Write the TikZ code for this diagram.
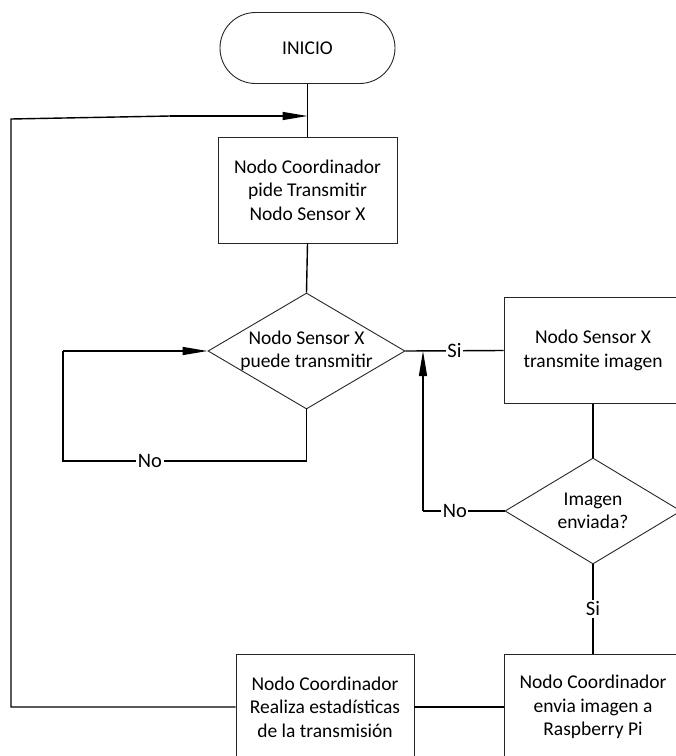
\documentclass[tikz,border=0pt]{standalone}
\usepackage{fontspec}
\setmainfont{Carlito}
\usetikzlibrary{shapes.geometric,shapes.misc,arrows.meta}
\tikzset{
  x=1pt, y=-1pt,
  txt/.style={align=center, font=\fontsize{19.5}{23.5}\selectfont},
  base/.style={txt, draw=black!85, line width=0.9pt, inner sep=2pt},
  term/.style={base, rounded rectangle, minimum width=179pt, minimum height=71pt},
  proc/.style={base, rectangle, minimum width=178pt, minimum height=106pt},
  decide/.style={draw=black!85, line width=0.9pt, diamond, inner sep=0pt},
  link/.style={line width=1.4pt},
  flow/.style={link, -{Triangle[length=25pt,width=8pt]}},
  tag/.style={fill=white, inner sep=1.5pt, font=\fontsize{20.5}{22}\selectfont}
}
\begin{document}
\begin{tikzpicture}
\useasboundingbox (0,0) rectangle (676,756);
\clip (0,0) rectangle (676,756);

% boxes and decisions
\node[term] (inicio) at (307.5,48) {INICIO};
\node[proc, minimum width=179pt] (pide) at (307.5,190) {Nodo Coordinador\\pide Transmitir\\Nodo Sensor X};
\node[decide, minimum width=197pt, minimum height=116pt,
      label={[txt]center:Nodo Sensor X\\puede transmitir}] (puede) at (306.5,351) {};
\node[proc] (transmite) at (593,350.5) {Nodo Sensor X\\transmite imagen};
\node[decide, minimum width=176pt, minimum height=106pt,
      label={[txt]center:Imagen\\enviada?}] (enviada) at (593,511) {};
\node[proc] (envia) at (593,707) {Nodo Coordinador\\envia imagen a\\Raspberry Pi};
\node[proc] (stats) at (325,707) {Nodo Coordinador\\Realiza estadísticas\\de la transmisión};

% junction points
\coordinate (jtop) at (307.5,116);
\coordinate (jsi) at (423,351);

% main line
\draw[link] (inicio.south) -- (pide.north);
\draw[link] (pide.south) -- (puede.north);

% retry loop around the first decision
\draw[link] (puede.south) -- (puede.south |- 0,461) -- (63,461) -- (63,351);
\node[tag] at (150,461) {No};
\draw[flow] (63,351) -- (puede.west);

% yes branch
\draw[link] (puede.east) -- (transmite.west) node[tag, pos=0.5] {Si};
\draw[link] (transmite.south) -- (enviada.north);

% resend branch
\draw[link] (enviada.west) -- (423,511) node[tag, pos=0.61] {No};
\draw[flow] (423,511) -- (jsi);

\draw[link] (enviada.south) -- (envia.north) node[tag, midway] {Si};
\draw[link] (envia.west) -- (stats.east);

% return to the start
\draw[link] (stats.west) -- (11,707) -- (11,119) -- (170,116);
\draw[flow] (170,116) -- (jtop);
\end{tikzpicture}
\end{document}
